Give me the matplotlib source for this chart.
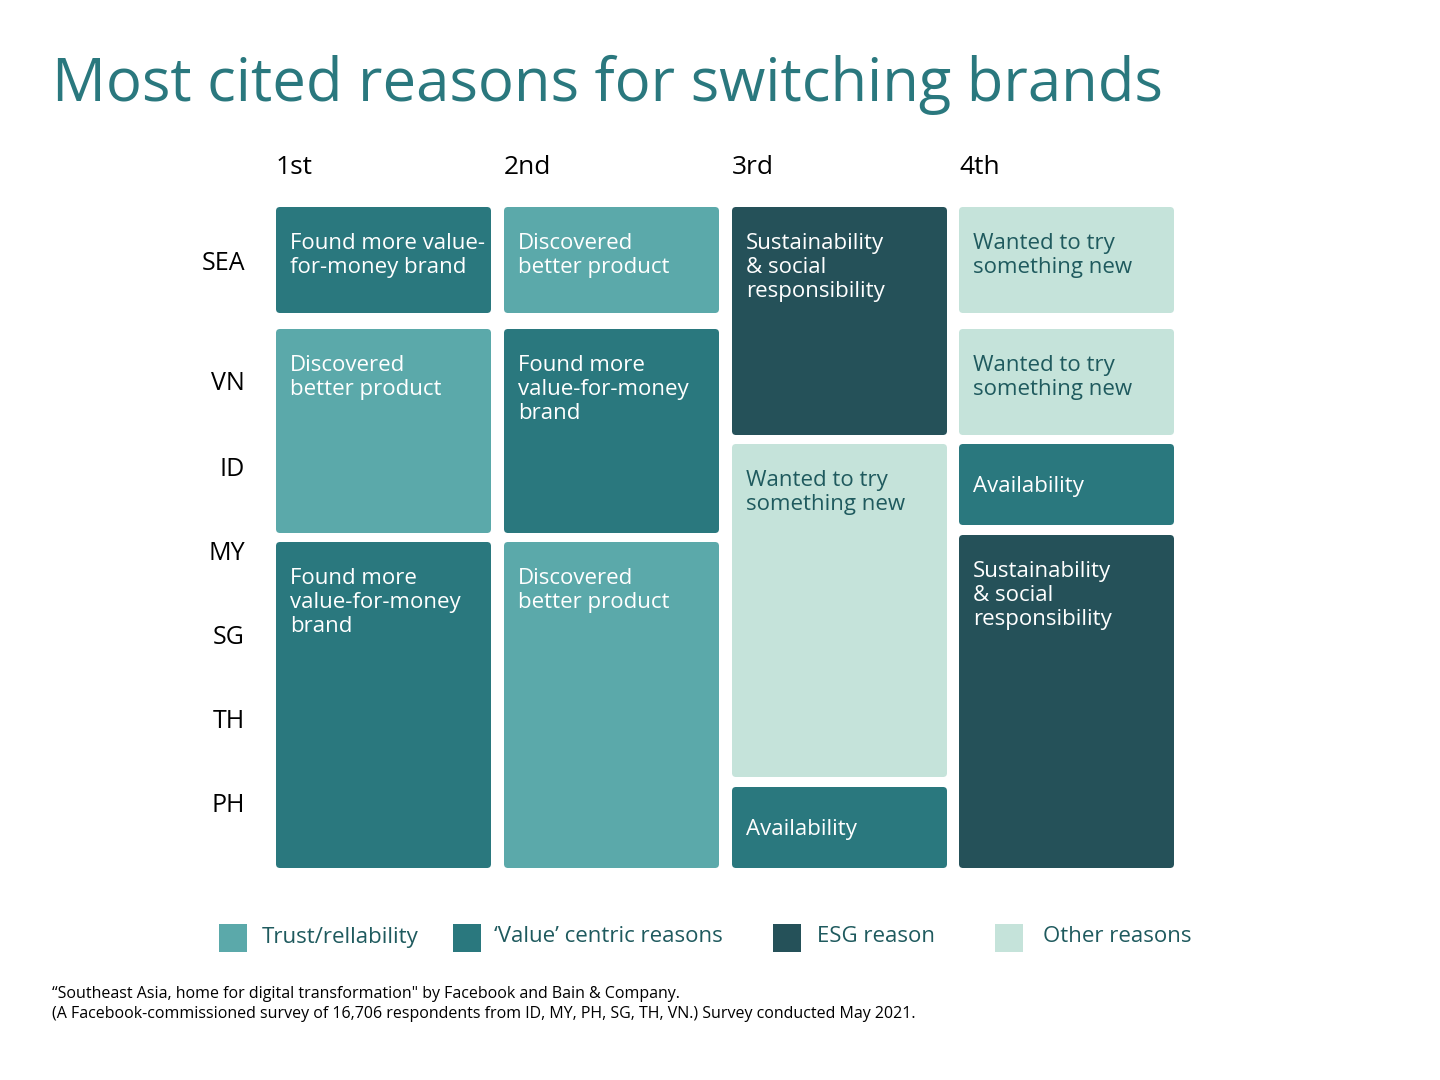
import matplotlib.pyplot as plt
from matplotlib.patches import FancyBboxPatch

plt.rcParams['font.family'] = ['Open Sans', 'DejaVu Sans']

# Data
title = "Most cited reasons for switching brands"
ranks = ["1st", "2nd", "3rd", "4th"]
markets = ["SEA", "VN", "ID", "MY", "SG", "TH", "PH"]
categories = ["Trust/rellability", "\u2018Value\u2019 centric reasons", "ESG reason", "Other reasons"]
cat_colors = {"trust": "#5BA9AA", "value": "#2A787E", "esg": "#255159", "other": "#C5E3DA"}
cat_keys = ["trust", "value", "esg", "other"]

# per column: (category, label, top, bottom) in pixel rows
col_blocks = [
    [("value", "Found more value-\nfor-money brand", 207, 313),
     ("trust", "Discovered\nbetter product", 329, 533),
     ("value", "Found more\nvalue-for-money\nbrand", 542, 868)],
    [("trust", "Discovered\nbetter product", 207, 313),
     ("value", "Found more\nvalue-for-money\nbrand", 329, 533),
     ("trust", "Discovered\nbetter product", 542, 868)],
    [("esg", "Sustainability\n& social\nresponsibility", 207, 435),
     ("other", "Wanted to try\nsomething new", 444, 777),
     ("value", "Availability", 787, 868)],
    [("other", "Wanted to try\nsomething new", 207, 313),
     ("other", "Wanted to try\nsomething new", 329, 435),
     ("value", "Availability", 444, 525),
     ("esg", "Sustainability\n& social\nresponsibility", 535, 868)],
]
market_y = [264, 384, 470, 553, 638, 722, 806]
footnote = ("\u201cSoutheast Asia, home for digital transformation\" by Facebook and Bain & Company.\n"
            "(A Facebook-commissioned survey of 16,706 respondents from ID, MY, PH, SG, TH, VN.) Survey conducted May 2021.")

fig = plt.figure(figsize=(14.4, 10.8), dpi=100)
ax = fig.add_axes([0, 0, 1, 1])
ax.set_xlim(0, 1440)
ax.set_ylim(1080, 0)
ax.axis('off')

teal = "#2A787E"
dark_text = "#1F5A5E"

ax.text(52, 85, title, fontsize=43, color=teal, va='center', ha='left')

col_x = [276, 504, 732, 959]
col_w = 215
for i, r in enumerate(ranks):
    ax.text(col_x[i], 167, r, fontsize=19, va='center', ha='left', color='black')

for m, y in zip(markets, market_y):
    ax.text(245, y, m, fontsize=18, va='center', ha='right', color='black')

for i, blocks in enumerate(col_blocks):
    x0 = col_x[i]
    for cat, label, top, bot in blocks:
        ax.add_patch(FancyBboxPatch((x0, top), col_w, bot - top,
                                    boxstyle="round,pad=0,rounding_size=4",
                                    fc=cat_colors[cat], ec='none'))
        tc = dark_text if cat == "other" else "white"
        if label == "Availability":
            ty = (top + bot) / 2 + 2
            va = 'center'
        else:
            ty = top + 26
            va = 'top'
        ax.text(x0 + 14, ty, label, fontsize=16, color=tc, va=va, ha='left',
                linespacing=1.2)

leg_x = [219, 453, 773, 995]
leg_tx = [262, 494, 817, 1043]
for k, lx, tx, lab in zip(cat_keys, leg_x, leg_tx, categories):
    ax.add_patch(plt.Rectangle((lx, 924), 28, 28, fc=cat_colors[k], ec='none'))
    ax.text(tx, 937, lab, fontsize=16, color=dark_text, va='center', ha='left')

ax.text(52, 1004, footnote, fontsize=11.5, color='black', va='center', ha='left',
        linespacing=1.3)

fig.savefig("out.png", dpi=100, facecolor='white')
